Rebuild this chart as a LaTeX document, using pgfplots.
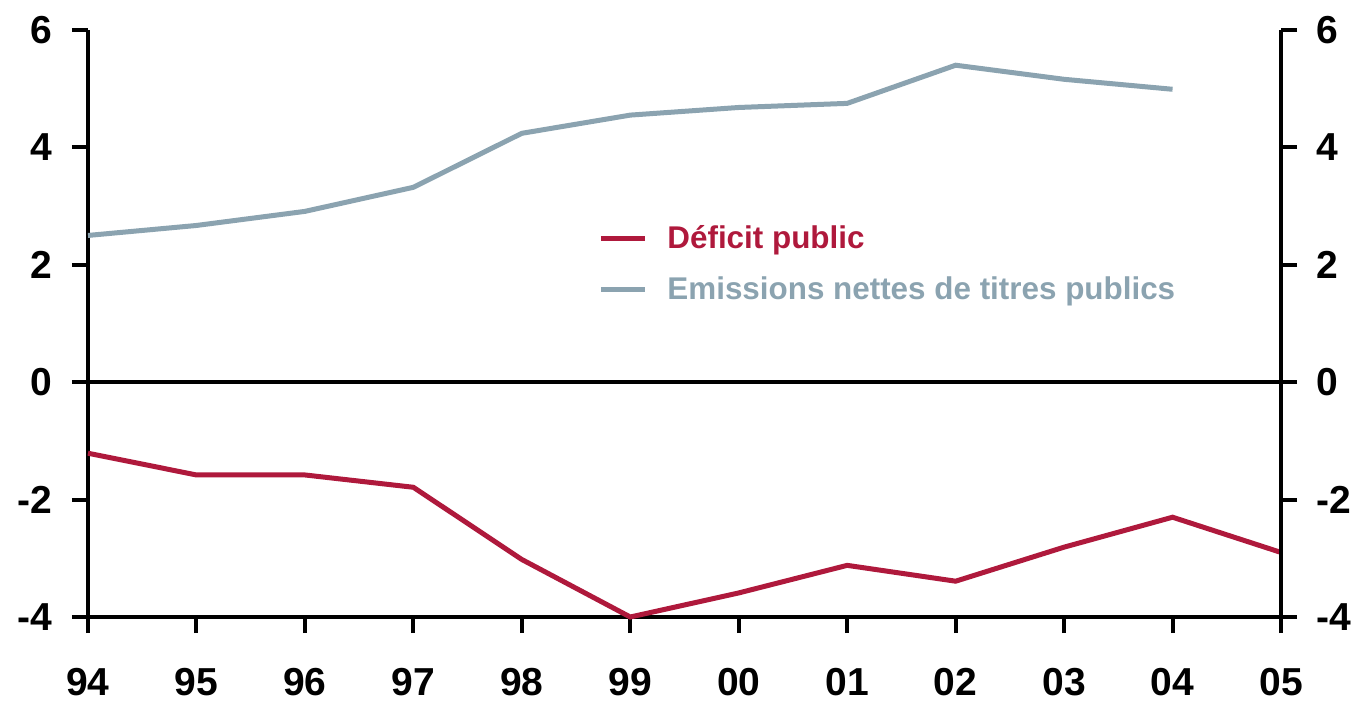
\documentclass[border=0pt]{standalone}
\usepackage{pgfplots}
\pgfplotsset{compat=1.18}
\usepackage{fontspec}
\setmainfont{Liberation Sans}
\definecolor{defred}{RGB}{175,25,60}
\definecolor{emgrey}{RGB}{139,163,176}
\pgfplotstableread{
x y
0 -1.21
1 -1.58
2 -1.58
3 -1.79
4 -3.02
5 -4.00
6 -3.59
7 -3.12
8 -3.39
9 -2.81
10 -2.30
11 -2.90
}\deficit
\pgfplotstableread{
x y
0 2.50
1 2.67
2 2.91
3 3.32
4 4.24
5 4.55
6 4.68
7 4.75
8 5.40
9 5.16
10 4.99
}\emissions
\begin{document}
\begin{tikzpicture}
\pgfplotsset{
  common/.style={
    scale only axis, width=596.5pt, height=293.5pt,
    xmin=0, xmax=11, ymin=-4, ymax=6,
    ytick={-4,-2,0,2,4,6},
    tick align=outside, major tick length=8pt,
    axis line style={line width=2pt, black},
    major tick style={line width=2pt, black},
    /pgf/number format/assume math mode=true,
    tick label style={font=\fontsize{19.5}{22}\selectfont\bfseries},
    clip=false,
  }
}
\begin{axis}[common, name=ax,
  axis x line*=bottom, axis y line*=left,
  xtick={0,...,11},
  xticklabels={94,95,96,97,98,99,00,01,02,03,04,05},
  xticklabel style={yshift=-14pt},
  yticklabel style={xshift=-6.5pt},
  legend style={draw=none, fill=none, at={(0.4275,0.601)}, anchor=west,
    inner sep=0pt, row sep=8.5pt, column sep=8pt,
    font=\fontsize{15.7}{18}\selectfont\bfseries,
    cells={anchor=west}},
  legend image code/.code={\draw[#1] (0pt,0pt) -- (22pt,0pt);},
]
\draw[line width=2pt, black] (axis cs:0,0) -- (axis cs:11,0);
\addplot[defred, line width=2.5pt] table[x=x,y=y] {\deficit};
\addlegendentry{\textcolor{defred}{Déficit public}}
\addplot[emgrey, line width=2.5pt] table[x=x,y=y] {\emissions};
\addlegendentry{\textcolor{emgrey}{Emissions nettes de titres publics}}
\end{axis}
\begin{axis}[common,
  axis x line=none, axis y line*=right,
  yticklabel style={xshift=6pt},
]
\end{axis}
\pgfresetboundingbox
\path ([xshift=-44pt,yshift=-42.5pt]ax.south west) rectangle ([xshift=36pt,yshift=15pt]ax.north east);
\end{tikzpicture}
\end{document}
